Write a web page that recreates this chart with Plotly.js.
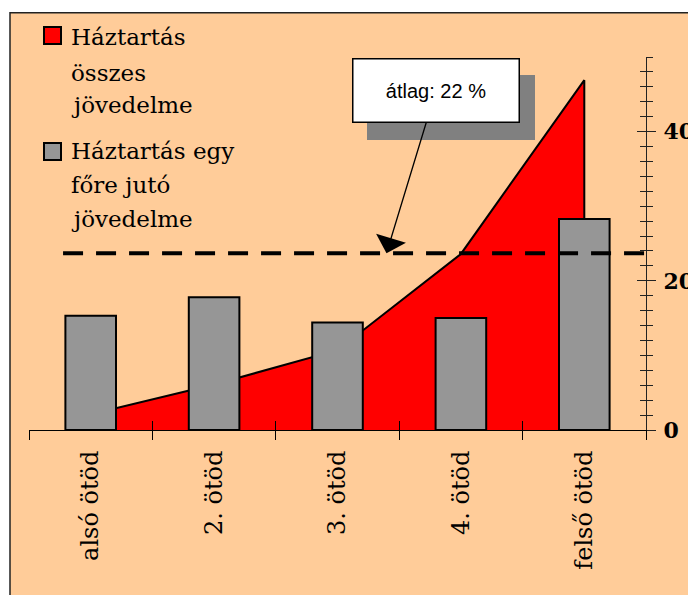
<!DOCTYPE html>
<html>
<head>
<meta charset="utf-8">
<script src="https://cdn.plot.ly/plotly-3.0.1.min.js"></script>
<style>
  html, body { margin: 0; padding: 0; background: #ffffff; }
  #chart { width: 688px; height: 595px; }
</style>
</head>
<body>
<div id="chart"></div>
<script>
// ---- data ----
const categories = ['alsó ötöd', '2. ötöd', '3. ötöd', '4. ötöd', 'felső ötöd'];
const totalIncome = [2.1, 6.1, 10.7, 23.6, 46.9];        // Háztartás összes jövedelme
const perCapitaIncome = [15.3, 17.8, 14.4, 15.0, 28.3];  // Háztartás egy főre jutó jövedelme
const averageValue = [23.7];
const averageLabel = 'átlag: 22 %';
const yTickVals = [0, 20, 40];
const yTickText = ['0', '20', '40'];
const seriesNames = ['Háztartás összes jövedelme', 'Háztartás egy főre jutó jövedelme'];
const legendLines = [['Háztartás', 'összes', 'jövedelme'], ['Háztartás egy', 'főre jutó', 'jövedelme']];
const seriesColors = ['#FF0000', '#969696'];

// ---- derived positions ----
const idx = categories.map((_, i) => i);
const boundaries = [-0.5].concat(idx.map(i => i + 0.5));
const xMin = -0.5, xMax = categories.length - 0.5;

const areaTrace = {
  type: 'scatter', mode: 'lines', name: seriesNames[0],
  x: [idx[0]].concat(idx, [idx[idx.length - 1]]),
  y: [0].concat(totalIncome, [0]),
  fill: 'toself', fillcolor: seriesColors[0],
  line: { color: '#000000', width: 2 },
  xaxis: 'x', yaxis: 'y', showlegend: false, hoverinfo: 'skip'
};

const barTrace = {
  type: 'bar', name: seriesNames[1],
  x: idx, y: perCapitaIncome, width: 0.41,
  marker: { color: seriesColors[1], line: { color: '#000000', width: 2 } },
  xaxis: 'x2', yaxis: 'y2', showlegend: false, hoverinfo: 'skip'
};

const avgTrace = {
  type: 'scatter', mode: 'lines', name: averageLabel,
  x: [-0.224, xMax],
  y: [averageValue[0], averageValue[0]],
  line: { color: '#000000', width: 4, dash: '20px,13px' },
  xaxis: 'x2', yaxis: 'y2', showlegend: false, hoverinfo: 'skip', cliponaxis: false
};

const serif = 'DejaVu Serif';
const legendFont = { family: serif, size: 23, color: '#000000' };

// manual legend (coordinates in paper units of the plot area)
const plotL = 29, plotW = 617, plotB = 430, plotH = 373;
const px = v => (v - plotL) / plotW;
const py = v => (plotB - v) / plotH;

const annotations = [];
const legendCenters = [[37, 72.7, 105.3], [151.3, 185.3, 218.7]];
const squareCenters = [36, 151];
legendLines.forEach((lines, s) => {
  annotations.push({
    xref: 'paper', yref: 'paper', x: px(52.5), y: py(squareCenters[s]),
    xanchor: 'center', yanchor: 'middle', text: ' ', showarrow: false,
    width: 13, height: 13, borderpad: 1, borderwidth: 2,
    bgcolor: seriesColors[s], bordercolor: '#000000', font: { size: 10 }
  });
  lines.forEach((t, k) => {
    annotations.push({
      xref: 'paper', yref: 'paper', x: px(69), y: py(legendCenters[s][k]),
      xanchor: 'left', yanchor: 'middle', text: t, showarrow: false,
      font: legendFont
    });
  });
});

// average label with drop shadow
const tipX = 2.397;
annotations.push({
  xref: 'x2', yref: 'y2', x: tipX, y: averageValue[0],
  text: ' ', showarrow: true, arrowcolor: 'rgba(0,0,0,0)', arrowwidth: 0.1,
  ax: 65, ay: -146, width: 166, height: 63, borderpad: 1, borderwidth: 0,
  bgcolor: '#808080', font: { size: 10 }
});
annotations.push({
  xref: 'x2', yref: 'y2', x: tipX, y: averageValue[0],
  text: averageLabel, showarrow: true, arrowhead: 1, arrowsize: 4, arrowwidth: 1.3,
  arrowcolor: '#000000',
  ax: 49.5, ay: -162.7, width: 163, height: 60, borderpad: 1, borderwidth: 1.5,
  bgcolor: '#ffffff', bordercolor: '#000000',
  font: { family: 'Liberation Sans, Arial, sans-serif', size: 20, color: '#000000' }
});

const layout = {
  width: 688, height: 595,
  margin: { l: plotL, r: 688 - plotL - plotW, t: plotB - plotH, b: 595 - plotB, pad: 0 },
  paper_bgcolor: '#ffffff',
  plot_bgcolor: 'rgba(0,0,0,0)',
  font: { family: serif },
  showlegend: false,
  barmode: 'overlay',
  xaxis: {
    range: [xMin, xMax], tickmode: 'array', tickvals: idx, ticktext: categories,
    tickangle: -90, ticks: 'outside', ticklen: 10, tickcolor: 'rgba(0,0,0,0)',
    tickfont: { family: serif, size: 24, color: '#000000' },
    showline: true, linecolor: '#000000', linewidth: 1,
    showgrid: false, zeroline: false, layer: 'above traces', fixedrange: true,
    minor: { tickmode: 'array', tickvals: boundaries, ticks: 'outside', ticklen: 9,
             tickcolor: '#000000', tickwidth: 1, showgrid: false }
  },
  xaxis2: {
    overlaying: 'x', range: [xMin, xMax], tickmode: 'array', tickvals: boundaries,
    ticks: 'inside', ticklen: 9, tickcolor: '#000000', tickwidth: 1,
    showticklabels: false, showline: false, showgrid: false, zeroline: false,
    layer: 'above traces', fixedrange: true
  },
  yaxis: {
    side: 'right', range: [0, 50], tickmode: 'array', tickvals: yTickVals, ticktext: yTickText,
    ticks: 'outside', ticklen: 9, tickcolor: '#222222', tickwidth: 1, ticklabelstandoff: 3,
    tickfont: { family: serif, size: 22, color: '#000000', weight: 'bold' },
    showline: true, linecolor: '#222222', linewidth: 1,
    showgrid: false, zeroline: false, layer: 'above traces', fixedrange: true,
    minor: { tick0: 0, dtick: 2, ticks: 'outside', ticklen: 6, tickcolor: '#222222',
             tickwidth: 1, showgrid: false }
  },
  yaxis2: {
    overlaying: 'y', side: 'right', range: [0, 50], tickmode: 'array', tickvals: yTickVals,
    ticks: 'inside', ticklen: 9, tickcolor: '#222222', tickwidth: 1,
    showticklabels: false, showline: false, showgrid: false, zeroline: false,
    layer: 'above traces', fixedrange: true,
    minor: { tick0: 0, dtick: 2, ticks: 'inside', ticklen: 6, tickcolor: '#222222',
             tickwidth: 1, showgrid: false }
  },
  shapes: [{
    type: 'rect', xref: 'paper', yref: 'paper', layer: 'below',
    x0: px(10), x1: 1.3, y0: -0.6, y1: py(12.7),
    fillcolor: '#FFCC99', line: { color: '#222222', width: 1.5 }
  }],
  annotations: annotations
};

Plotly.newPlot('chart', [areaTrace, barTrace, avgTrace], layout, { staticPlot: true, displayModeBar: false });
</script>
</body>
</html>
